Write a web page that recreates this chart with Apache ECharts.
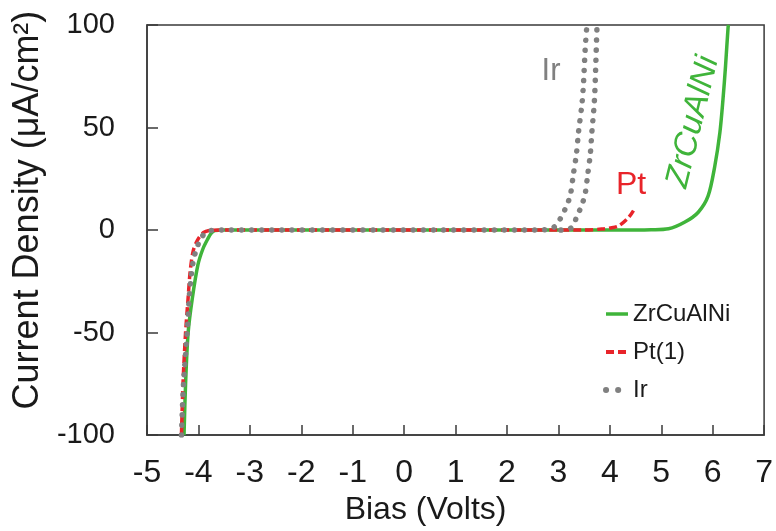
<!DOCTYPE html>
<html>
<head>
<meta charset="utf-8">
<script src="https://cdn.jsdelivr.net/npm/echarts@6/dist/echarts.min.js"></script>
<style>html,body{margin:0;padding:0;background:#fff;}#c{width:776px;height:531px;}</style>
</head>
<body>
<div id="c"></div>
<script>
// Bias (V), Current density (uA/cm^2)
var xTicks = [-5,-4,-3,-2,-1,0,1,2,3,4,5,6,7];
var yTicks = [-100,-50,0,50,100];
var seriesNames = ['ZrCuAlNi','Pt(1)','Ir'];

var zrcualni = [[-4.28,-100],[-4.25,-75],[-4.2,-50],[-4.12,-33.5],[-4.01,-17],[-3.91,-9],[-3.82,-4.4],[-3.75,-1.5],[-3.68,-0.3],[-3.5,0],[0,0],[4.5,0],[4.8,0.1],[5.14,0.6],[5.46,3.9],[5.72,8.7],[5.91,16.5],[6.04,31],[6.14,47.5],[6.2,63.6],[6.25,80],[6.3,99],[6.31,100]];
var pt1 = [[-4.33,-100],[-4.3,-75],[-4.25,-50],[-4.2,-33],[-4.16,-20],[-4.1,-10],[-4.02,-5],[-3.9,-1.2],[-3.75,-0.1],[-3.5,0],[0,0],[3.5,0],[3.84,0.5],[4.0,1],[4.17,2],[4.36,6],[4.46,9.5]];
var irSweep1 = [[-4.33,-100],[-4.29,-75],[-4.22,-50],[-4.17,-30],[-4.1,-15],[-4.02,-8],[-3.95,-4],[-3.85,-1],[-3.75,-0.2],[-3.5,0],[0,0],[2.6,0],[2.84,0.5],[2.94,2],[3.07,7],[3.16,12],[3.23,16.7],[3.29,27],[3.35,37],[3.39,47.5],[3.46,62],[3.49,72.5],[3.52,88],[3.55,98.5],[3.56,100]];
var irSweep2 = [[3.05,0],[3.2,0.5],[3.29,2],[3.36,7],[3.42,10],[3.48,14],[3.52,17.5],[3.57,27],[3.62,37],[3.65,47.5],[3.70,63],[3.73,83],[3.75,98.5],[3.76,100]];

var GREEN = '#3fb43a', RED = '#e8242a', GRAY = '#808080';
var FONT = '"Liberation Sans", Arial, sans-serif';

var chart = echarts.init(document.getElementById('c'), null, {renderer:'canvas'});
chart.setOption({
  animation: false,
  backgroundColor: '#fff',
  grid: {left:147, right:10, top:25, bottom:94, show:true, borderColor:'#3a3a3a', borderWidth:1.5, backgroundColor:'transparent'},
  xAxis: {
    type:'value', min:xTicks[0], max:xTicks[xTicks.length-1], interval:1,
    name:'Bias (Volts)', nameLocation:'middle', nameGap:58,
    nameTextStyle:{fontFamily:FONT, fontSize:32, color:'#1a1a1a', padding:[0,60,0,0]},
    axisLine:{show:true, onZero:false, lineStyle:{color:'#3a3a3a', width:1.5}},
    axisTick:{show:true, inside:true, length:10, lineStyle:{color:'#3a3a3a', width:1.5}},
    axisLabel:{fontFamily:FONT, fontSize:32, color:'#1a1a1a', margin:22},
    splitLine:{show:false}
  },
  yAxis: {
    type:'value', min:yTicks[0], max:yTicks[yTicks.length-1], interval:50,
    name:'Current Density (\u03bcA/cm\u00b2)', nameLocation:'middle', nameGap:93,
    nameTextStyle:{fontFamily:FONT, fontSize:36, color:'#1a1a1a', padding:[0,0,0,40]},
    axisLine:{show:true, onZero:false, lineStyle:{color:'#3a3a3a', width:1.5}},
    axisTick:{show:true, inside:true, length:11, lineStyle:{color:'#3a3a3a', width:1.5}},
    axisLabel:{fontFamily:FONT, fontSize:29, color:'#1a1a1a', margin:32},
    splitLine:{show:false}
  },
  legend: {
    data: [
      {name:seriesNames[0], lineStyle:{width:3.5}},
      {name:seriesNames[1], lineStyle:{width:4, type:[8,4]}},
      {name:seriesNames[2], lineStyle:{width:6, type:[0.1,12], cap:'round'}}
    ],
    orient:'vertical', left:603, top:302,
    itemWidth:22, itemHeight:14, itemGap:14,
    itemStyle:{opacity:0},
    textStyle:{fontFamily:FONT, fontSize:24, color:'#1a1a1a'},
    padding:0
  },
  series: [
    {name:seriesNames[0], type:'line', data:zrcualni, showSymbol:false, symbol:'none', smooth:0.3, z:2,
     lineStyle:{color:GREEN, width:3.5}, itemStyle:{color:GREEN}},
    {name:seriesNames[1], type:'line', data:pt1, showSymbol:false, symbol:'none', smooth:0.3, z:3,
     lineStyle:{color:RED, width:3.5, type:[8,4]}, itemStyle:{color:RED}},
    {name:seriesNames[2], type:'line', data:irSweep1, showSymbol:false, symbol:'none', smooth:0.3, z:4,
     lineStyle:{color:GRAY, width:5.5, type:[0.1,10], cap:'round'}, itemStyle:{color:GRAY}},
    {name:seriesNames[2], type:'line', data:irSweep2, showSymbol:false, symbol:'none', smooth:0.3, z:4,
     lineStyle:{color:GRAY, width:5.5, type:[0.1,10], cap:'round'}, itemStyle:{color:GRAY}}
  ],
  graphic: [
    {type:'text', x:551, y:71, style:{text:'Ir', fontFamily:FONT, fontSize:31, fill:GRAY, align:'center', verticalAlign:'middle'}},
    {type:'text', x:631, y:185, style:{text:'Pt', fontFamily:FONT, fontSize:32, fill:RED, align:'center', verticalAlign:'middle'}},
    {type:'text', x:693, y:122, rotation:1.33, style:{text:'ZrCuAlNi', fontFamily:FONT, fontSize:33, fontStyle:'italic', fill:GREEN, align:'center', verticalAlign:'middle'}}
  ]
});
</script>
</body>
</html>
